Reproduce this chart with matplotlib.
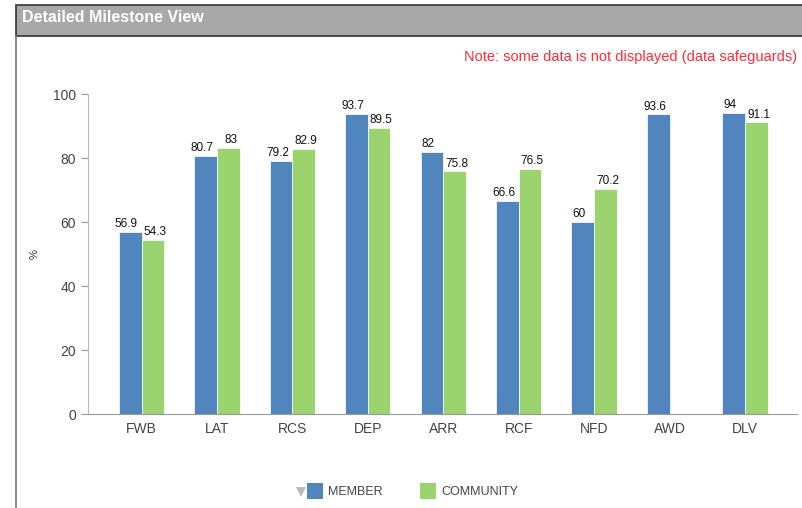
import matplotlib.pyplot as plt
import numpy as np
from matplotlib.patches import Rectangle, Polygon
from matplotlib.lines import Line2D

categories = ["FWB", "LAT", "RCS", "DEP", "ARR", "RCF", "NFD", "AWD", "DLV"]
member = [56.9, 80.7, 79.2, 93.7, 82, 66.6, 60, 93.6, 94]
community = [54.3, 83, 82.9, 89.5, 75.8, 76.5, 70.2, None, 91.1]
yticks = [0, 20, 40, 60, 80, 100]

blue = "#5185bd"
green = "#9bd46e"

plt.rcParams['font.family'] = ['Liberation Sans', 'DejaVu Sans']

fig = plt.figure(figsize=(8.02, 5.08), dpi=100)

# panel frame and header
W, H = 802, 508
fig.patches.append(Rectangle((16 / W, 1 - 36 / H), 1, 31 / H, transform=fig.transFigure,
                             facecolor="#a8a8a8", edgecolor="#333333", lw=1.2))
fig.add_artist(Line2D([16 / W, 16 / W], [0, 1 - 36 / H], transform=fig.transFigure,
                      color="#777777", lw=1.2))
fig.text(22 / W, 1 - 18 / H, "Detailed Milestone View", color="white", fontsize=11.5,
         fontweight="bold", va="center", ha="left")
fig.text(797 / W, 1 - 57 / H, "Note: some data is not displayed (data safeguards)",
         color="#ff2a3a", fontsize=10.5, ha="right", va="center")

ax = fig.add_axes([88 / W, 1 - 414 / H, 709 / W, 320 / H])
x = np.arange(len(categories))
bw = 0.3
for i, (m, c) in enumerate(zip(member, community)):
    ax.bar(x[i] - bw / 2, m, bw, color=blue, edgecolor="white", linewidth=0.5)
    ax.text(x[i] - bw / 2 - 0.05, m + 0.6, f"{m:g}", ha="center", va="bottom", fontsize=8.5, color="#111111")
    if c is not None:
        ax.bar(x[i] + bw / 2, c, bw, color=green, edgecolor="white", linewidth=0.5)
        ax.text(x[i] + bw / 2 + 0.03, c + 0.6, f"{c:g}", ha="center", va="bottom", fontsize=8.5, color="#111111")

ax.set_xlim(-0.71, 8.69)
ax.set_ylim(0, 100)
ax.set_yticks(yticks)
ax.set_xticks(x)
ax.set_xticklabels(categories)
ax.tick_params(axis="y", colors="#999999", labelcolor="#444444", labelsize=10, length=5, direction="out")
ax.tick_params(axis="x", length=0, labelcolor="#444444", labelsize=10, pad=6)
for s in ["top", "right"]:
    ax.spines[s].set_visible(False)
ax.spines["left"].set_color("#bbbbbb")
ax.spines["bottom"].set_color("#999999")
ax.spines["bottom"].set_linestyle((0, (1, 1)))
ax.set_ylabel("%", fontsize=8, color="#333333")
ax.yaxis.set_label_coords(-0.068, 0.5)

# legend
fig.patches.append(Polygon([[296 / W, 1 - 487 / H], [306 / W, 1 - 487 / H], [301 / W, 1 - 497 / H]],
                           closed=True, transform=fig.transFigure, facecolor="#bbbbbb", edgecolor="none"))
fig.patches.append(Rectangle((307 / W, 1 - 499 / H), 16 / W, 16 / H, transform=fig.transFigure,
                             facecolor=blue, edgecolor="none"))
fig.text(328 / W, 1 - 492 / H, "MEMBER", fontsize=9, color="#444444", va="center")
fig.patches.append(Rectangle((420 / W, 1 - 499 / H), 16 / W, 16 / H, transform=fig.transFigure,
                             facecolor=green, edgecolor="none"))
fig.text(441 / W, 1 - 492 / H, "COMMUNITY", fontsize=9, color="#444444", va="center")

fig.savefig("out.png", dpi=100)
